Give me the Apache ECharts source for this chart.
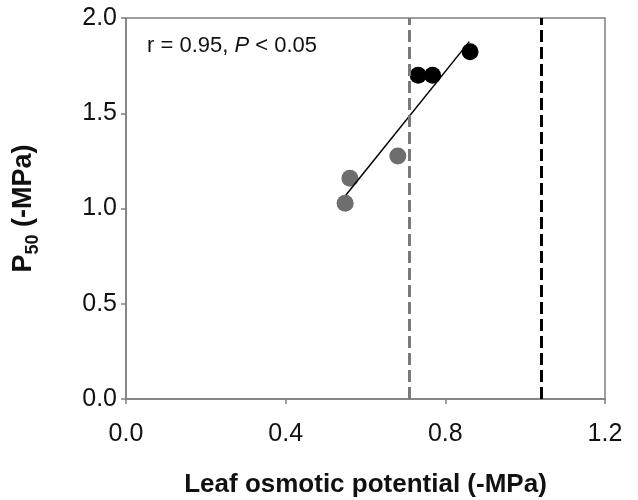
<!DOCTYPE html>
<html>
<head>
<meta charset="utf-8">
<title>P50 vs leaf osmotic potential</title>
<script src="https://cdn.jsdelivr.net/npm/echarts@6/dist/echarts.min.js"></script>
<style>
  html, body { margin: 0; padding: 0; background: #fff; }
  #chart { width: 638px; height: 500px; }
</style>
</head>
<body>
<div id="chart"></div>
<script>
// 数据
const grayPoints = [[0.549, 1.027], [0.561, 1.159], [0.681, 1.276]];
const blackPoints = [[0.732, 1.70], [0.768, 1.70], [0.862, 1.823]];
const fitLine = [[0.551, 1.071], [0.860, 1.876]];
const grayRefX = 0.713;
const blackRefX = 1.041;
const xTicks = [0, 0.4, 0.8, 1.2];
const yTicks = [0, 0.5, 1.0, 1.5, 2.0];

const FONT = '"Liberation Sans", Arial, sans-serif';
const AXIS_COLOR = '#7f7f7f';

const chart = echarts.init(document.getElementById('chart'), null, { renderer: 'canvas' });

const option = {
  backgroundColor: '#fff',
  animation: false,
  grid: {
    left: 126,
    right: 33,
    top: 18,
    bottom: 101,
    outerBoundsMode: 'none', // 不让名称挤压绘图区
    show: true,
    borderColor: AXIS_COLOR,
    borderWidth: 1.5,
    backgroundColor: 'rgba(0,0,0,0)'
  },
  xAxis: {
    type: 'value',
    min: xTicks[0],
    max: xTicks[xTicks.length - 1],
    interval: 0.4,
    name: 'Leaf osmotic potential (-MPa)',
    nameLocation: 'middle',
    nameGap: 73,
    nameTextStyle: { fontFamily: FONT, fontSize: 26, fontWeight: 'bold', color: '#111' },
    splitLine: { show: false },
    axisLine: { lineStyle: { color: AXIS_COLOR, width: 1.5 } },
    axisTick: { show: true, inside: false, length: 5, lineStyle: { color: AXIS_COLOR, width: 1.5 } },
    axisLabel: {
      fontFamily: FONT,
      fontSize: 25,
      color: '#111',
      margin: 23,
      formatter: (v) => v.toFixed(1)
    }
  },
  yAxis: {
    type: 'value',
    min: yTicks[0],
    max: yTicks[yTicks.length - 1],
    interval: 0.5,
    name: '{p|P}{s|50}{p| (-MPa)}',
    nameLocation: 'middle',
    nameGap: 84,
    nameTextStyle: {
      fontFamily: FONT,
      color: '#111',
      rich: {
        p: { fontFamily: FONT, fontSize: 27, fontWeight: 'bold', color: '#111', lineHeight: 36, verticalAlign: 'middle' },
        s: { fontFamily: FONT, fontSize: 18, fontWeight: 'bold', color: '#111', lineHeight: 36, verticalAlign: 'bottom' }
      }
    },
    splitLine: { show: false },
    axisLine: { show: true, lineStyle: { color: AXIS_COLOR, width: 1.5 } },
    axisTick: { show: true, inside: false, length: 5, lineStyle: { color: AXIS_COLOR, width: 1.5 } },
    axisLabel: {
      fontFamily: FONT,
      fontSize: 25,
      color: '#111',
      margin: 9,
      formatter: (v) => v.toFixed(1)
    }
  },
  graphic: [
    {
      type: 'text',
      left: 147,
      top: 35,
      style: {
        text: '{n|r = 0.95, }{i|P}{n| < 0.05}',
        rich: {
          n: { fontFamily: FONT, fontSize: 22, fill: '#111' },
          i: { fontFamily: FONT, fontSize: 22, fontStyle: 'italic', fill: '#111' }
        }
      }
    }
  ],
  series: [
    {
      // 灰色虚线
      type: 'line',
      data: [],
      markLine: {
        silent: true,
        symbol: 'none',
        label: { show: false },
        lineStyle: { color: '#7a7a7a', width: 3, type: [12, 5] },
        data: [{ xAxis: grayRefX }]
      }
    },
    {
      // 黑色虚线
      type: 'line',
      data: [],
      markLine: {
        silent: true,
        symbol: 'none',
        label: { show: false },
        lineStyle: { color: '#000', width: 3, type: [12, 5] },
        data: [{ xAxis: blackRefX }]
      }
    },
    {
      type: 'scatter',
      symbol: 'circle',
      symbolSize: 17,
      itemStyle: { color: '#6e6e6e', opacity: 1 },
      data: grayPoints,
      z: 3
    },
    {
      type: 'scatter',
      symbol: 'circle',
      symbolSize: 17,
      itemStyle: { color: '#000', opacity: 1 },
      data: blackPoints,
      z: 3
    },
    {
      // 回归线
      type: 'line',
      data: fitLine,
      showSymbol: false,
      symbol: 'none',
      lineStyle: { color: '#000', width: 1.5 },
      z: 4
    }
  ]
};

chart.setOption(option);
</script>
</body>
</html>
